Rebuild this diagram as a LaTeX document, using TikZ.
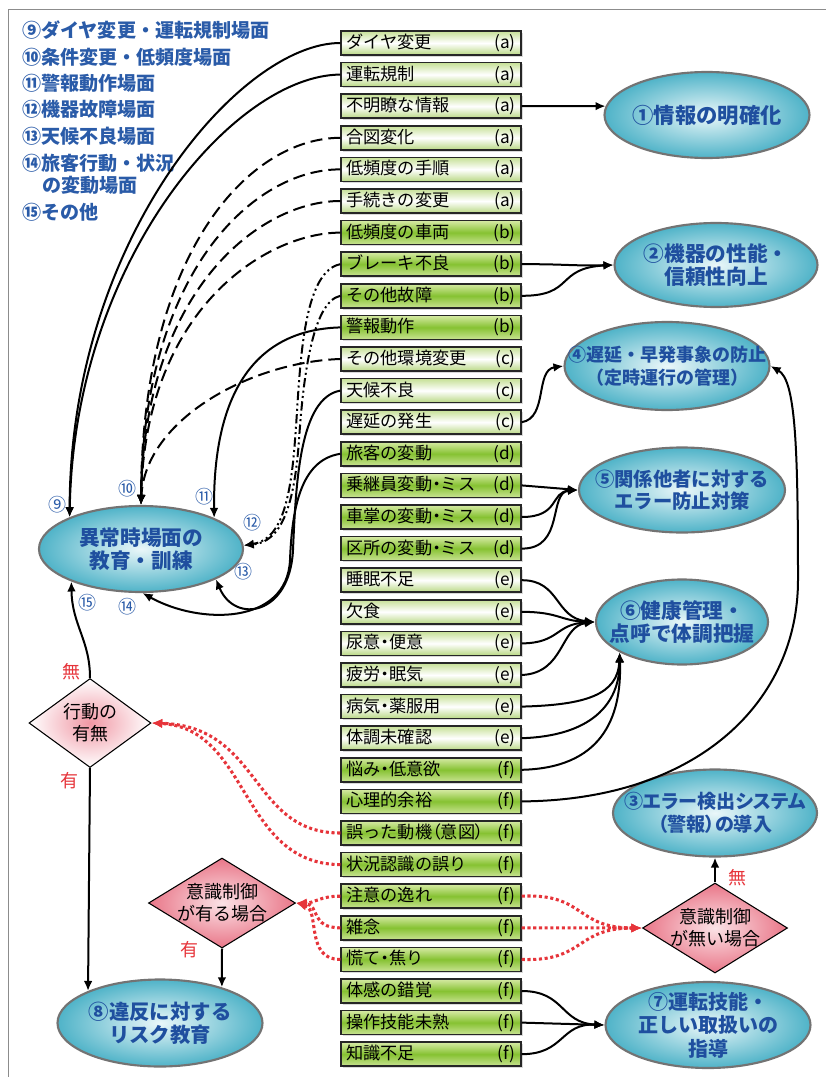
\documentclass[tikz,border=0pt]{standalone}
\usepackage{fontspec}
\setmainfont{Noto Sans CJK JP}
\newfontfamily\jpp{Noto Sans CJK JP}[RawFeature=+palt]
\usetikzlibrary{shapes.geometric,arrows.meta,shadows}
\definecolor{gtop}{HTML}{D6EAA4}
\definecolor{gmid}{HTML}{86C232}
\definecolor{gbot}{HTML}{C9E393}
\definecolor{wtop}{HTML}{C6E096}
\definecolor{wbot}{HTML}{B9D884}
\definecolor{einner}{HTML}{EAF7F9}
\definecolor{eouter}{HTML}{4FB3C8}
\definecolor{eblue}{HTML}{1F4F9F}
\definecolor{lblue}{HTML}{2A5BA8}
\definecolor{redline}{HTML}{E6343A}
\definecolor{dpink}{HTML}{F097A4}
\definecolor{dpinkin}{HTML}{FBE2E6}
\definecolor{dpinkout}{HTML}{E97688}
\definecolor{framec}{HTML}{8C8C8C}
\newcommand\boxtxt[2]{\makebox[127pt][l]{#1\hfill#2}}
\newcommand\nd{{\jpp ・}}
\begin{document}
\begin{tikzpicture}[x=0.75pt,y=-0.75pt,
  box/.style={draw=black!85, line width=1.1pt, minimum width=135pt, minimum height=18pt, inner sep=0pt,
    font=\fontsize{12.9pt}{14pt}\selectfont,
    drop shadow={shadow xshift=1.4pt,shadow yshift=-1.4pt,opacity=0.3}},
  gbox/.style={box, top color=gtop, bottom color=gbot, middle color=gmid},
  wbox/.style={box, top color=wtop, bottom color=wbot, middle color=white},
  ell/.style={ellipse, draw=black!55, line width=1.6pt, inner sep=0pt, inner color=einner, outer color=eouter},
  etxt/.style={text=eblue, align=center, inner sep=0pt, font=\fontsize{15.5pt}{17.5pt}\selectfont\bfseries},
  dia/.style={diamond, draw=black, line width=0.8pt, inner sep=0pt},
  dtxt/.style={align=center, inner sep=0pt, font=\fontsize{13.5pt}{16.5pt}\selectfont},
  leg/.style={anchor=west, text=lblue, inner sep=0pt, font=\fontsize{14.3pt}{16pt}\selectfont\bfseries},
  cn/.style={text=lblue, inner sep=0pt, font=\fontsize{13.5pt}{14pt}\selectfont},
  rl/.style={text=redline, inner sep=0pt, font=\fontsize{13.5pt}{14pt}\selectfont},
  ar/.style={line width=1.5pt, -{Latex[length=7.5pt,width=6.5pt]}},
  dsh/.style={dash pattern=on 9pt off 4.5pt},
  ddot/.style={dash pattern=on 7pt off 2.5pt on 1.5pt off 2.5pt on 1.5pt off 2.5pt},
  rar/.style={draw=redline, line width=2.3pt, dash pattern=on 2.3pt off 2pt, -{Latex[length=8pt,width=7pt]}}
]
\useasboundingbox (0,0) rectangle (826,1077);
\draw[framec, line width=1.2pt] (8.5,1077) -- (8.5,9.5) -- (826,9.5);

% legend
\node[leg] (l9) at (22,30) {⑨ダイヤ変更・運転規制場面};
\node[leg] (l10) at (22,57) {⑩条件変更・低頻度場面};
\node[leg] (l11) at (22,83) {⑪警報動作場面};
\node[leg] (l12) at (22,109) {⑫機器故障場面};
\node[leg] (l13) at (22,136) {⑬天候不良場面};
\node[leg] (l14) at (22,163) {⑭旅客行動・状況};
\node[leg] (l14b) at (42,185) {の変動場面};
\node[leg] (l15) at (22,212) {⑮その他};

% boxes
\node[wbox] (b1) at (431,43) {\boxtxt{ダイヤ変更}{(a)}};
\node[wbox] (b2) at (431,74.6) {\boxtxt{運転規制}{(a)}};
\node[wbox] (b3) at (431,106.2) {\boxtxt{不明瞭な情報}{(a)}};
\node[wbox] (b4) at (431,137.8) {\boxtxt{合図変化}{(a)}};
\node[wbox] (b5) at (431,169.4) {\boxtxt{低頻度の手順}{(a)}};
\node[wbox] (b6) at (431,201) {\boxtxt{手続きの変更}{(a)}};
\node[gbox] (b7) at (431,232.6) {\boxtxt{低頻度の車両}{(b)}};
\node[gbox] (b8) at (431,264.2) {\boxtxt{ブレーキ不良}{(b)}};
\node[gbox] (b9) at (431,295.8) {\boxtxt{その他故障}{(b)}};
\node[gbox] (b10) at (431,327.4) {\boxtxt{警報動作}{(b)}};
\node[wbox] (b11) at (431,359) {\boxtxt{その他環境変更}{(c)}};
\node[wbox] (b12) at (431,390.6) {\boxtxt{天候不良}{(c)}};
\node[wbox] (b13) at (431,422.2) {\boxtxt{遅延の発生}{(c)}};
\node[gbox] (b14) at (431,453.8) {\boxtxt{旅客の変動}{(d)}};
\node[gbox] (b15) at (431,485.4) {\boxtxt{乗継員変動\nd ミス}{(d)}};
\node[gbox] (b16) at (431,517) {\boxtxt{車掌の変動\nd ミス}{(d)}};
\node[gbox] (b17) at (431,548.6) {\boxtxt{区所の変動\nd ミス}{(d)}};
\node[wbox] (b18) at (431,580.2) {\boxtxt{睡眠不足}{(e)}};
\node[wbox] (b19) at (431,611.8) {\boxtxt{欠食}{(e)}};
\node[wbox] (b20) at (431,643.4) {\boxtxt{尿意\nd 便意}{(e)}};
\node[wbox] (b21) at (431,675) {\boxtxt{疲労\nd 眠気}{(e)}};
\node[wbox] (b22) at (431,706.6) {\boxtxt{病気\nd 薬服用}{(e)}};
\node[wbox] (b23) at (431,738.2) {\boxtxt{体調未確認}{(e)}};
\node[gbox] (b24) at (431,769.8) {\boxtxt{悩み\nd 低意欲}{(f)}};
\node[gbox] (b25) at (431,801.4) {\boxtxt{心理的余裕}{(f)}};
\node[gbox] (b26) at (431,833) {\boxtxt{誤った動機{\jpp （}意図{\jpp ）}}{(f)}};
\node[gbox] (b27) at (431,864.6) {\boxtxt{状況認識の誤り}{(f)}};
\node[gbox] (b28) at (431,896.2) {\boxtxt{注意の逸れ}{(f)}};
\node[gbox] (b29) at (431,927.8) {\boxtxt{雑念}{(f)}};
\node[gbox] (b30) at (431,959.4) {\boxtxt{慌て\nd 焦り}{(f)}};
\node[gbox] (b31) at (431,991) {\boxtxt{体感の錯覚}{(f)}};
\node[gbox] (b32) at (431,1022.6) {\boxtxt{操作技能未熟}{(f)}};
\node[gbox] (b33) at (431,1054.2) {\boxtxt{知識不足}{(f)}};

% ellipses
\node[ell, minimum width=153.75pt, minimum height=64.5pt] (e1) at (707,115) {};
\node[etxt, font=\fontsize{16pt}{17.5pt}\selectfont\bfseries] at (e1) {①情報の明確化};
\node[ell, minimum width=152.25pt, minimum height=63pt] (e2) at (716,265) {};
\node[etxt] at (e2) {②機器の性能・\\信頼性向上};
\node[ell, minimum width=153.75pt, minimum height=66pt] (e4) at (667,366) {};
\node[etxt, font=\fontsize{13.5pt}{17pt}\selectfont\bfseries] at (e4) {④遅延・早発事象の防止\\（定時運行の管理）};
\node[ell, minimum width=154.5pt, minimum height=63.75pt] (e5) at (682,490) {};
\node[etxt, font=\fontsize{14.5pt}{17pt}\selectfont\bfseries] at (e5) {⑤関係他者に対する\\エラー防止対策};
\node[ell, minimum width=129pt, minimum height=63.75pt] (e6) at (682,622) {};
\node[etxt] at (e6) {⑥健康管理・\\点呼で体調把握};
\node[ell, minimum width=153pt, minimum height=65.25pt] (e3) at (715,813) {};
\node[etxt, font=\fontsize{14.3pt}{17pt}\selectfont\bfseries\jpp] at (e3) {③エラー検出システム\\（警報）の導入};
\node[ell, minimum width=153.75pt, minimum height=64.5pt] (e7) at (708,1025) {};
\node[etxt, font=\fontsize{15pt}{17.5pt}\selectfont\bfseries] at (e7) {⑦運転技能・\\正しい取扱いの\\指導};
\node[ell, minimum width=153pt, minimum height=64.5pt] (main) at (141,549) {};
\node[etxt] at (main) {異常時場面の\\教育・訓練};
\node[ell, minimum width=153.75pt, minimum height=65.25pt] (e8) at (160,1023) {};
\node[etxt, font=\fontsize{15.3pt}{17.5pt}\selectfont\bfseries] at (e8) {⑧違反に対する\\リスク教育};

% diamonds
\node[dia, minimum width=91.5pt, minimum height=66.75pt, inner color=dpink, outer color=white] (d1) at (90,723) {};
\node[dtxt] at (d1) {行動の\\有無};
\node[dia, minimum width=110.25pt, minimum height=67.5pt, inner color=dpinkin, outer color=dpinkout] (d2) at (222,903) {};
\node[dtxt] at (d2) {意識制御\\が有る場合};
\node[dia, minimum width=108.75pt, minimum height=67.5pt, inner color=dpinkin, outer color=dpinkout] (d3) at (715,928) {};
\node[dtxt] at (d3) {意識制御\\が無い場合};

% circled numbers
\node[cn] (c9) at (57,505) {⑨};
\node[cn] (c10) at (127,489) {⑩};
\node[cn] (c11) at (204,497) {⑪};
\node[cn] (c12) at (252,523) {⑫};
\node[cn] (c13) at (243,572) {⑬};
\node[cn] (c14) at (127,607) {⑭};
\node[cn] (c15) at (87,603) {⑮};

% red labels
\node[rl] (n1) at (71,672) {無};
\node[rl] (y1) at (69,781) {有};
\node[rl] (y2) at (189,950) {有};
\node[rl] (n2) at (737,878) {無};

% connectors to main (9)
\draw[ar] (b1.west) .. controls (240,43) and (70,240) .. (main.156);
\draw[ar] (b2.west) .. controls (235,75) and (74,260) .. (main.156);
% (10) dashed
\draw[ar,dsh] (b4.west) .. controls (250,138) and (142,250) .. (main.north);
\draw[ar,dsh] (b5.west) .. controls (255,169) and (143,270) .. (main.north);
\draw[ar,dsh] (b6.west) .. controls (260,201) and (144,290) .. (main.north);
\draw[ar,dsh] (b7.west) .. controls (265,233) and (145,310) .. (main.north);
\draw[ar,dsh] (b11.west) .. controls (250,362) and (145,420) .. (main.north);
% (11)
\draw[ar] (b10.west) .. controls (250,330) and (213,400) .. (main.23);
% (12)
\draw[ar,ddot] (b8.west) .. controls (300,272) and (300,380) .. (295,440) .. controls (290,510) and (278,540) .. (main.2);
\draw[ar,ddot] (b9.west) .. controls (312,302) and (303,380) .. (299,440) .. controls (294,510) and (280,542) .. (main.2);
% (13)
\draw[ar] (b12.west) .. controls (300,398) and (296,480) .. (293,550) .. controls (290,615) and (235,625) .. (main.-22);
% (14)
\draw[ar] (b14.west) .. controls (300,460) and (292,510) .. (290,560) .. controls (287,625) and (200,625) .. (main.-88);
% (15)
\draw[ar] (d1.north) .. controls (90,640) and (72,625) .. (main.205);

% right side
\draw[ar] (b3.east) -- (e1.175);
\draw[ar] (b8.east) .. controls (565,264) and (570,266) .. (e2.west);
\draw[ar] (b9.east) .. controls (575,296) and (555,268) .. (e2.west);
\draw[ar] (b13.east) .. controls (548,418) and (535,370) .. (e4.west);
\draw[ar] (b15.east) -- (e5.west);
\draw[ar] (b16.east) .. controls (560,517) and (550,492) .. (e5.west);
\draw[ar] (b17.east) .. controls (565,549) and (548,492) .. (e5.west);
\draw[ar] (b18.east) .. controls (560,580) and (555,618) .. (e6.west);
\draw[ar] (b19.east) .. controls (560,612) and (560,621) .. (e6.west);
\draw[ar] (b20.east) .. controls (560,643) and (555,624) .. (e6.west);
\draw[ar] (b21.east) .. controls (565,673) and (560,626) .. (e6.west);
\draw[ar] (b22.east) .. controls (585,705) and (618,695) .. (e6.206);
\draw[ar] (b23.east) .. controls (590,736) and (620,705) .. (e6.206);
\draw[ar] (b24.east) .. controls (600,768) and (622,720) .. (e6.206);
\draw[ar] (b25.east) .. controls (700,800) and (798,700) .. (798,580) .. controls (798,440) and (795,380) .. (e4.east);
\draw[ar] (d3.north) -- (e3.south);
\draw[ar] (b31.east) .. controls (565,991) and (560,1023) .. (e7.west);
\draw[ar] (b32.east) -- (e7.west);
\draw[ar] (b33.east) .. controls (565,1054) and (560,1023) .. (e7.west);
\draw[ar] (d1.south) -- (e8.156);
\draw[ar] (d2.south) -- (e8.30);

% red dotted
\draw[rar] (b26.west) .. controls (250,833) and (262,726) .. (d1.east);
\draw[rar] (b27.west) .. controls (240,864) and (250,728) .. (d1.east);
\draw[rar] (b28.west) .. controls (320,896) and (315,903) .. (d2.east);
\draw[rar] (b29.west) .. controls (310,928) and (320,905) .. (d2.east);
\draw[rar] (b30.west) .. controls (305,960) and (320,910) .. (d2.east);
\draw[rar] (b28.east) .. controls (585,893) and (575,928) .. (d3.west);
\draw[rar] (b29.east) -- (d3.west);
\draw[rar] (b30.east) .. controls (585,962) and (575,928) .. (d3.west);
\end{tikzpicture}
\end{document}
